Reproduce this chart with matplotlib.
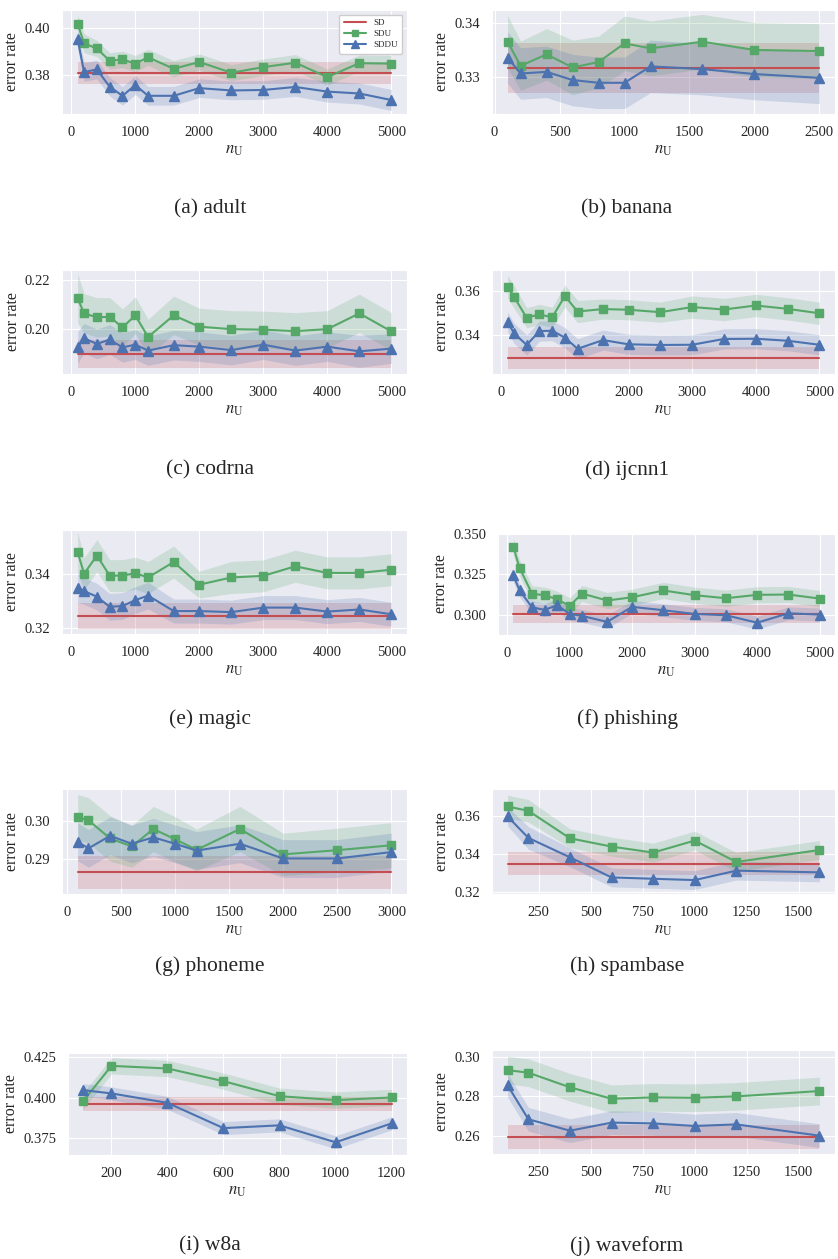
import matplotlib
matplotlib.use("Agg")
import matplotlib.pyplot as plt
import seaborn as sns
import numpy as np

sns.set_style("darkgrid")
plt.rcParams['font.family'] = ['Liberation Serif', 'DejaVu Serif']
plt.rcParams['mathtext.fontset'] = 'stix'

# n_U grids
x_long = [100, 200, 400, 600, 800, 1000, 1200, 1600, 2000, 2500, 3000, 3500, 4000, 4500, 5000]
x_banana = [100, 200, 400, 600, 800, 1000, 1200, 1600, 2000, 2500]
x_phoneme = [100, 200, 400, 600, 800, 1000, 1200, 1600, 2000, 2500, 3000]
x_spam = [100, 200, 400, 600, 800, 1000, 1200, 1600]
x_w8a = [100, 200, 400, 600, 800, 1000, 1200]

captions = ['(a) adult', '(b) banana', '(c) codrna', '(d) ijcnn1', '(e) magic',
            '(f) phishing', '(g) phoneme', '(h) spambase', '(i) w8a', '(j) waveform']

# adult
adult_sd, adult_sd_std = 0.3810, 0.0047
adult_sdu = [0.4019, 0.3936, 0.3914, 0.3861, 0.3867, 0.3849, 0.3876, 0.3827, 0.3856, 0.3810, 0.3834, 0.3853, 0.3791, 0.3851, 0.3849]
adult_sdu_std = [0.004, 0.004, 0.0035, 0.0035, 0.0035, 0.0035, 0.0035, 0.0035, 0.0035, 0.0035, 0.0035, 0.0035, 0.0035, 0.0035, 0.0035]
adult_sddu = [0.3953, 0.3813, 0.3824, 0.3750, 0.3711, 0.3757, 0.3711, 0.3711, 0.3744, 0.3734, 0.3736, 0.3749, 0.3729, 0.3721, 0.3693]
adult_sddu_std = [0.004, 0.004, 0.004, 0.004, 0.004, 0.004, 0.004, 0.004, 0.004, 0.004, 0.004, 0.004, 0.0045, 0.0045, 0.0045]

# banana
banana_sd, banana_sd_std = 0.33165, 0.0046
banana_sdu = [0.3365, 0.3321, 0.3342, 0.3318, 0.3328, 0.3362, 0.3353, 0.3365, 0.3350, 0.3348]
banana_sdu_std = [0.0048, 0.0045, 0.0047, 0.005, 0.0047, 0.005, 0.005, 0.005, 0.005, 0.005]
banana_sddu = [0.3336, 0.3307, 0.3310, 0.3295, 0.3290, 0.3290, 0.3320, 0.3315, 0.3306, 0.3299]
banana_sddu_std = [0.0047, 0.0047, 0.0047, 0.0047, 0.0047, 0.0047, 0.0048, 0.0047, 0.0047, 0.0047]

# codrna
codrna_sd, codrna_sd_std = 0.1900, 0.0055
codrna_sdu = [0.2126, 0.2065, 0.2049, 0.2051, 0.2008, 0.2057, 0.1969, 0.2057, 0.2011, 0.2001, 0.1999, 0.1993, 0.2001, 0.2065, 0.1992]
codrna_sdu_std = [0.010, 0.008, 0.008, 0.0078, 0.0075, 0.0075, 0.0072, 0.0078, 0.0075, 0.0075, 0.0075, 0.0075, 0.0075, 0.0078, 0.0076]
codrna_sddu = [0.1927, 0.1964, 0.1941, 0.1959, 0.1927, 0.1938, 0.1914, 0.1936, 0.1930, 0.1916, 0.1938, 0.1914, 0.1930, 0.1911, 0.1922]
codrna_sddu_std = [0.0065, 0.006, 0.006, 0.006, 0.006, 0.006, 0.006, 0.006, 0.006, 0.006, 0.006, 0.006, 0.006, 0.0065, 0.006]

# ijcnn1
ijcnn1_sd, ijcnn1_sd_std = 0.3300, 0.0049
ijcnn1_sdu = [0.3618, 0.3573, 0.3479, 0.3494, 0.3481, 0.3576, 0.3507, 0.3518, 0.3515, 0.3504, 0.3527, 0.3516, 0.3534, 0.3519, 0.3499]
ijcnn1_sdu_std = [0.005, 0.005, 0.0045, 0.0045, 0.0045, 0.005, 0.005, 0.0045, 0.0045, 0.0045, 0.005, 0.005, 0.005, 0.005, 0.005]
ijcnn1_sddu = [0.3460, 0.3410, 0.3357, 0.3419, 0.3421, 0.3390, 0.3340, 0.3379, 0.3360, 0.3357, 0.3358, 0.3384, 0.3385, 0.3376, 0.3358]
ijcnn1_sddu_std = [0.0045, 0.0045, 0.0045, 0.0045, 0.0045, 0.0045, 0.0045, 0.0045, 0.0045, 0.0045, 0.0045, 0.0045, 0.0045, 0.0045, 0.0045]

# magic
magic_sd, magic_sd_std = 0.3243, 0.0048
magic_sdu = [0.3483, 0.3402, 0.3470, 0.3395, 0.3395, 0.3404, 0.3388, 0.3446, 0.3361, 0.3388, 0.3394, 0.3430, 0.3405, 0.3405, 0.3417]
magic_sdu_std = [0.0075, 0.006, 0.006, 0.006, 0.006, 0.006, 0.006, 0.006, 0.005, 0.006, 0.006, 0.006, 0.006, 0.006, 0.006]
magic_sddu = [0.3349, 0.3337, 0.3316, 0.3278, 0.3281, 0.3303, 0.3320, 0.3262, 0.3262, 0.3258, 0.3275, 0.3275, 0.3260, 0.3268, 0.3250]
magic_sddu_std = [0.0055, 0.005, 0.005, 0.005, 0.005, 0.005, 0.005, 0.0045, 0.0045, 0.0045, 0.0045, 0.0045, 0.0045, 0.0045, 0.0045]

# phishing
phishing_sd, phishing_sd_std = 0.3002, 0.0055
phishing_sdu = [0.3417, 0.3289, 0.3128, 0.3120, 0.3095, 0.3054, 0.3130, 0.3087, 0.3107, 0.3149, 0.3120, 0.3101, 0.3122, 0.3124, 0.3099]
phishing_sdu_std = [0.005, 0.005, 0.005, 0.005, 0.005, 0.005, 0.005, 0.005, 0.005, 0.005, 0.005, 0.005, 0.005, 0.005, 0.005]
phishing_sddu = [0.3244, 0.3149, 0.3045, 0.3029, 0.3058, 0.3004, 0.2992, 0.2955, 0.3048, 0.3027, 0.3004, 0.2996, 0.2950, 0.3008, 0.3000]
phishing_sddu_std = [0.004, 0.004, 0.004, 0.004, 0.004, 0.004, 0.004, 0.004, 0.004, 0.004, 0.004, 0.004, 0.004, 0.004, 0.004]

# phoneme
phoneme_sd, phoneme_sd_std = 0.28655, 0.0043
phoneme_sdu = [0.3011, 0.3003, 0.2955, 0.2934, 0.2980, 0.2953, 0.2925, 0.2980, 0.2913, 0.2924, 0.2937]
phoneme_sdu_std = [0.006, 0.006, 0.006, 0.0055, 0.006, 0.006, 0.0055, 0.006, 0.0056, 0.0058, 0.006]
phoneme_sddu = [0.2946, 0.2929, 0.2962, 0.2941, 0.2958, 0.2941, 0.2923, 0.2941, 0.2902, 0.2902, 0.2919]
phoneme_sddu_std = [0.005, 0.005, 0.005, 0.005, 0.005, 0.005, 0.005, 0.005, 0.005, 0.005, 0.005]

# spambase
spambase_sd, spambase_sd_std = 0.3349, 0.0062
spambase_sdu = [0.3653, 0.3630, 0.3484, 0.3440, 0.3408, 0.3472, 0.3358, 0.3422]
spambase_sdu_std = [0.006, 0.006, 0.005, 0.005, 0.005, 0.005, 0.005, 0.005]
spambase_sddu = [0.3600, 0.3486, 0.3383, 0.3276, 0.3269, 0.3262, 0.3312, 0.3303]
spambase_sddu_std = [0.005, 0.006, 0.005, 0.005, 0.005, 0.005, 0.005, 0.005]

# w8a
w8a_sd, w8a_sd_std = 0.3964, 0.0043
w8a_sdu = [0.3981, 0.4195, 0.4179, 0.4101, 0.4009, 0.3985, 0.4001]
w8a_sdu_std = [0.005, 0.005, 0.005, 0.005, 0.005, 0.005, 0.005]
w8a_sddu = [0.4046, 0.4026, 0.3968, 0.3813, 0.3830, 0.3726, 0.3842]
w8a_sddu_std = [0.004, 0.004, 0.004, 0.004, 0.004, 0.004, 0.004]

# waveform
waveform_sd, waveform_sd_std = 0.2593, 0.006
waveform_sdu = [0.2932, 0.2919, 0.2845, 0.2787, 0.2794, 0.2792, 0.2799, 0.2826]
waveform_sdu_std = [0.007, 0.007, 0.007, 0.007, 0.007, 0.007, 0.007, 0.007]
waveform_sddu = [0.2855, 0.2683, 0.2625, 0.2666, 0.2662, 0.2649, 0.2657, 0.2600]
waveform_sddu_std = [0.006, 0.006, 0.006, 0.006, 0.006, 0.006, 0.006, 0.006]

datasets = [
    (x_long, adult_sd, adult_sd_std, adult_sdu, adult_sdu_std, adult_sddu, adult_sddu_std),
    (x_banana, banana_sd, banana_sd_std, banana_sdu, banana_sdu_std, banana_sddu, banana_sddu_std),
    (x_long, codrna_sd, codrna_sd_std, codrna_sdu, codrna_sdu_std, codrna_sddu, codrna_sddu_std),
    (x_long, ijcnn1_sd, ijcnn1_sd_std, ijcnn1_sdu, ijcnn1_sdu_std, ijcnn1_sddu, ijcnn1_sddu_std),
    (x_long, magic_sd, magic_sd_std, magic_sdu, magic_sdu_std, magic_sddu, magic_sddu_std),
    (x_long, phishing_sd, phishing_sd_std, phishing_sdu, phishing_sdu_std, phishing_sddu, phishing_sddu_std),
    (x_phoneme, phoneme_sd, phoneme_sd_std, phoneme_sdu, phoneme_sdu_std, phoneme_sddu, phoneme_sddu_std),
    (x_spam, spambase_sd, spambase_sd_std, spambase_sdu, spambase_sdu_std, spambase_sddu, spambase_sddu_std),
    (x_w8a, w8a_sd, w8a_sd_std, w8a_sdu, w8a_sdu_std, w8a_sddu, w8a_sddu_std),
    (x_spam, waveform_sd, waveform_sd_std, waveform_sdu, waveform_sdu_std, waveform_sddu, waveform_sddu_std),
]

ylims = [(0.3633, 0.4079), (0.3233, 0.3423), (0.1819, 0.2241), (0.3227, 0.3693), (0.3176, 0.3566),
         (0.2874, 0.3504), (0.2808, 0.3086), (0.3188, 0.3746), (0.3648, 0.4274), (0.2507, 0.3034)]
yticks = [[0.38, 0.40], [0.33, 0.34], [0.20, 0.22], [0.34, 0.36], [0.32, 0.34],
          [0.300, 0.325, 0.350], [0.29, 0.30], [0.32, 0.34, 0.36], [0.375, 0.400, 0.425], [0.26, 0.28, 0.30]]
yfmt = ['%.2f', '%.2f', '%.2f', '%.2f', '%.2f', '%.3f', '%.2f', '%.2f', '%.3f', '%.2f']
xticks = [[0, 1000, 2000, 3000, 4000, 5000], [0, 500, 1000, 1500, 2000, 2500]] + \
         [[0, 1000, 2000, 3000, 4000, 5000]] * 4 + \
         [[0, 500, 1000, 1500, 2000, 2500, 3000], [250, 500, 750, 1000, 1250, 1500],
          [200, 400, 600, 800, 1000, 1200], [250, 500, 750, 1000, 1250, 1500]]

# axes boxes in pixels: left, top, right, bottom
W, H = 838, 1259
boxes = [(62, 10, 407, 114), (492, 10, 835, 114),
         (62, 270, 407, 374), (492, 270, 835, 374),
         (62, 530, 407, 634), (498, 533, 835, 635),
         (62, 789, 407, 894), (492, 789, 835, 894),
         (68, 1053, 407, 1155), (492, 1050, 835, 1154)]
caption_y = [209, 470, 719, 966, 1246]

red, green, blue = '#C44E52', '#55A868', '#4C72B0'

fig = plt.figure(figsize=(W / 100, H / 100), dpi=100)
for i, (xs, sd, sd_s, sdu, sdu_s, sddu, sddu_s) in enumerate(datasets):
    l, t, r, b = boxes[i]
    ax = fig.add_axes([l / W, 1 - b / H, (r - l) / W, (b - t) / H])
    xs = np.array(xs)
    sdu = np.array(sdu); sdu_s = np.array(sdu_s)
    sddu = np.array(sddu); sddu_s = np.array(sddu_s)
    sd_line = np.full(len(xs), sd)
    ax.plot(xs, sd_line, color=red, lw=1.5, label='SD')
    ax.fill_between(xs, sd_line - sd_s, sd_line + sd_s, color=red, alpha=0.2, lw=0)
    ax.plot(xs, sdu, color=green, lw=1.5, marker='s', ms=6, label='SDU')
    ax.fill_between(xs, sdu - sdu_s, sdu + sdu_s, color=green, alpha=0.2, lw=0)
    ax.plot(xs, sddu, color=blue, lw=1.5, marker='^', ms=6.5, label='SDDU')
    ax.fill_between(xs, sddu - sddu_s, sddu + sddu_s, color=blue, alpha=0.2, lw=0)
    ax.set_ylim(*ylims[i])
    ax.set_yticks(yticks[i])
    ax.set_yticklabels([yfmt[i] % v for v in yticks[i]])
    ax.set_xticks(xticks[i])
    ax.tick_params(labelsize=10.5, pad=5)
    ax.set_ylabel('error rate', fontsize=11.5, labelpad=3)
    ax.set_xlabel(r'$n_{\mathrm{U}}$', fontsize=12, labelpad=2)
    if i == 0:
        ax.legend(loc='upper right', fontsize=6.5, frameon=True, facecolor='white',
                  framealpha=1, borderpad=0.5, handlelength=2.5, labelspacing=0.3,
                  markerscale=0.8)
    cx = (210 if i % 2 == 0 else 627) / W
    fig.text(cx, 1 - caption_y[i // 2] / H, captions[i], ha='center', va='center', fontsize=15.5)

fig.savefig('out.png', dpi=100)
